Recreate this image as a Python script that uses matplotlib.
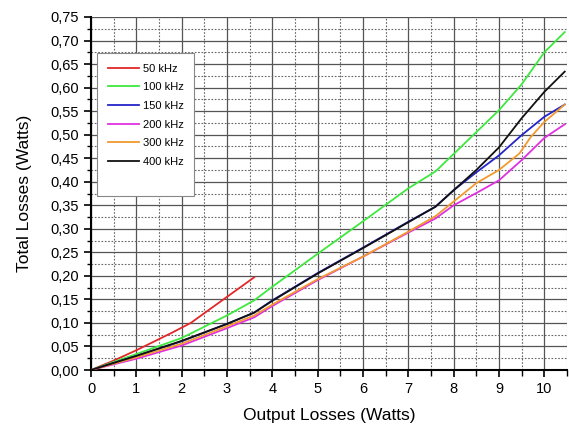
import matplotlib
matplotlib.use("Agg")
import matplotlib.pyplot as plt
from matplotlib.ticker import MultipleLocator, FuncFormatter
from matplotlib.lines import Line2D

plt.rcParams['font.family'] = ['Liberation Sans', 'DejaVu Sans']

# output losses (W) vs total losses (W) per switching frequency
x_50k = [0, 0.5, 1.0, 1.8, 2.2, 3.6]
y_50k = [0, 0.020, 0.042, 0.080, 0.100, 0.197]

x_100k = [0, 1.0, 2.0, 3.0, 3.6, 4.0, 5.0, 6.0, 7.0, 7.6, 8.0, 9.0, 9.5, 10.0, 10.45]
y_100k = [0, 0.034, 0.068, 0.116, 0.148, 0.177, 0.247, 0.316, 0.386, 0.422, 0.459, 0.552, 0.607, 0.675, 0.718]

x_150k = [0, 1.0, 2.0, 3.0, 3.6, 4.0, 5.0, 6.0, 7.0, 7.6, 8.0, 8.5, 9.0, 9.5, 10.0, 10.45]
y_150k = [0, 0.030, 0.061, 0.098, 0.122, 0.148, 0.206, 0.260, 0.315, 0.347, 0.382, 0.420, 0.456, 0.499, 0.538, 0.564]

x_200k = [0, 1.0, 2.0, 3.0, 3.6, 4.0, 5.0, 6.0, 7.0, 7.6, 8.0, 8.5, 9.0, 9.5, 10.0, 10.45]
y_200k = [0, 0.024, 0.052, 0.089, 0.112, 0.136, 0.191, 0.241, 0.292, 0.322, 0.350, 0.376, 0.403, 0.446, 0.493, 0.522]

x_300k = [0, 1.0, 2.0, 3.0, 3.6, 4.0, 5.0, 6.0, 7.0, 7.6, 8.0, 8.5, 9.0, 9.45, 9.7, 10.0, 10.45]
y_300k = [0, 0.027, 0.056, 0.093, 0.116, 0.139, 0.193, 0.241, 0.294, 0.327, 0.358, 0.397, 0.425, 0.460, 0.495, 0.527, 0.564]

x_400k = [0, 1.0, 2.0, 3.0, 3.6, 4.0, 5.0, 6.0, 7.0, 7.6, 8.0, 8.5, 9.0, 9.5, 10.0, 10.45]
y_400k = [0, 0.030, 0.062, 0.098, 0.122, 0.147, 0.205, 0.259, 0.314, 0.347, 0.382, 0.425, 0.473, 0.535, 0.591, 0.634]

labels = ['50 kHz', '100 kHz', '150 kHz', '200 kHz', '300 kHz', '400 kHz']
colors = ['#e02828', '#3ee83e', '#2424c8', '#e030e0', '#f09a30', '#111111']

fig = plt.figure(figsize=(5.69, 4.30), dpi=100)
ax = fig.add_axes([0.16, 0.1395, 0.8365, 0.821])

series = [(x_50k, y_50k), (x_100k, y_100k), (x_150k, y_150k),
          (x_200k, y_200k), (x_300k, y_300k), (x_400k, y_400k)]
for (xs, ys), lab, c in zip(series, labels, colors):
    ax.plot(xs, ys, color=c, lw=1.3, label=lab, zorder=3)

ax.set_xlim(0, 10.5)
ax.set_ylim(0, 0.75)
ax.xaxis.set_major_locator(MultipleLocator(1))
ax.xaxis.set_minor_locator(MultipleLocator(0.5))
ax.yaxis.set_major_locator(MultipleLocator(0.05))
ax.yaxis.set_minor_locator(MultipleLocator(0.025))
ax.yaxis.set_major_formatter(FuncFormatter(lambda v, p: f"{v:.2f}".replace('.', ',')))

ax.grid(which='major', color='#555555', lw=0.9, ls='-', zorder=0)
ax.grid(which='minor', color='#666666', lw=0.8, ls=(0, (1.5, 1.5)), zorder=0)
ax.set_axisbelow(True)

for s in ['top', 'right']:
    ax.spines[s].set_visible(False)
for s in ['left', 'bottom']:
    ax.spines[s].set_linewidth(1.5)

ax.tick_params(which='major', direction='out', length=5, width=1.2, labelsize=10.5, colors='black')
ax.tick_params(which='minor', direction='out', length=3, width=1.0)
ax.tick_params(axis='x', which='minor', length=4)

ax.set_xlabel('Output Losses (Watts)', fontsize=12.5, labelpad=9)
ax.set_ylabel('Total Losses (Watts)', fontsize=12.5, labelpad=13)

# blank last row keeps the empty space at the bottom of the legend box
handles, labs = ax.get_legend_handles_labels()
handles.append(Line2D([], [], color='none'))
labs.append(' ')
leg = ax.legend(handles, labs, loc='upper left', bbox_to_anchor=(0.013, 0.898),
                borderaxespad=0, fontsize=8, handlelength=2.8, handletextpad=0.35,
                labelspacing=0.78, fancybox=False, framealpha=1, edgecolor='#888888',
                borderpad=0.95)
leg.get_frame().set_linewidth(0.8)

fig.savefig('out.png', dpi=100)
